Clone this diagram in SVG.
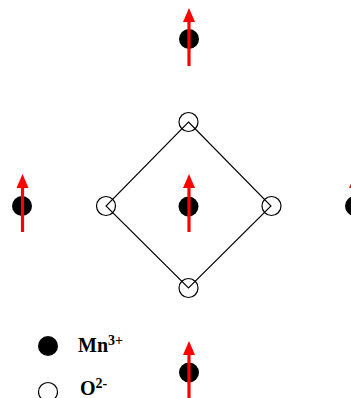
<svg xmlns="http://www.w3.org/2000/svg" width="351" height="398" viewBox="0 0 351 398">
<defs>
<style>
.mn{fill:#000}
.o{fill:none;stroke:#000;stroke-width:1.2}
.shaft{stroke:#ff0000;stroke-width:3.2;fill:none}
.head{fill:#ff0000}
.lbl{font-family:"Liberation Serif","Times New Roman",serif;font-weight:bold;fill:#000}
</style>
<g id="spin">
<line class="shaft" x1="0" y1="26" x2="0" y2="-20"/>
<polygon class="head" points="0,-32 -6,-18 6,-18"/>
</g>
</defs>
<g id="connectors">
<polygon points="188.5,122 271,206 188.5,288 106,206" fill="none" stroke="#000" stroke-width="1.1"/>
</g>
<g id="O-top"><circle class="o" cx="188.5" cy="122" r="9.5"/></g>
<g id="O-left"><circle class="o" cx="106" cy="206" r="9.5"/></g>
<g id="O-right"><circle class="o" cx="271.5" cy="206" r="9.5"/></g>
<g id="O-bottom"><circle class="o" cx="188.5" cy="288" r="9.5"/></g>
<g id="Mn-center"><circle class="mn" cx="188.5" cy="206.5" r="10"/><use href="#spin" x="189" y="206"/></g>
<g id="Mn-top"><circle class="mn" cx="189" cy="39" r="10"/><use href="#spin" x="189" y="40"/></g>
<g id="Mn-left"><circle class="mn" cx="22" cy="206" r="10"/><use href="#spin" x="22.5" y="206"/></g>
<g id="Mn-right"><circle class="mn" cx="355" cy="206" r="10"/><use href="#spin" x="355" y="206"/></g>
<g id="Mn-bottom"><circle class="mn" cx="189" cy="372.5" r="10"/><use href="#spin" x="189" y="373"/></g>
<g id="legend-Mn"><circle class="mn" cx="48" cy="346" r="10"/><text class="lbl" x="78" y="352" font-size="20">Mn<tspan font-size="14" dy="-7">3+</tspan></text></g>
<g id="legend-O"><circle class="o" cx="48" cy="392" r="9.5"/><text class="lbl" x="80" y="395" font-size="20">O<tspan font-size="14" dy="-7">2-</tspan></text></g>
</svg>
